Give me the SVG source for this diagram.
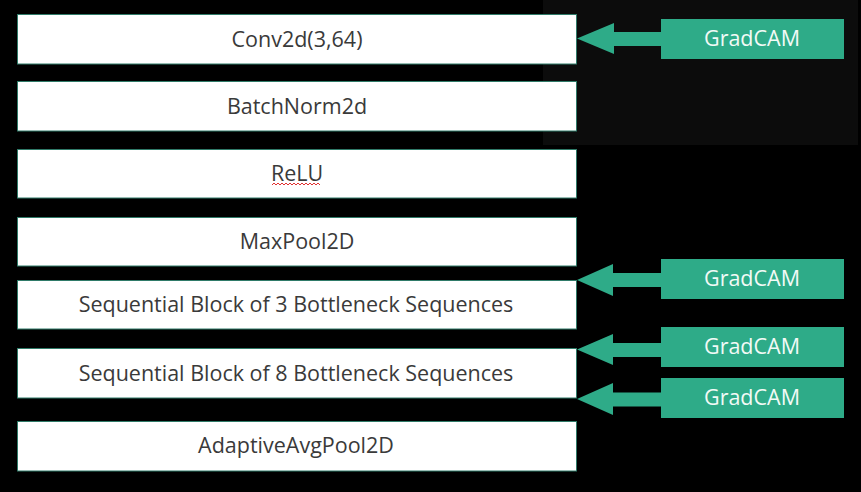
<svg xmlns="http://www.w3.org/2000/svg" width="861" height="492" viewBox="0 0 861 492">
  <style>
    .layer rect { fill: #ffffff; stroke: #2f7a68; stroke-width: 1; }
    .layer text { font-family: "Open Sans", "Noto Sans", sans-serif; font-size: 21.5px; fill: #3a3a3a; text-anchor: middle; }
    .cam rect { fill: #2eab88; }
    .cam text { font-family: "Open Sans", "Noto Sans", sans-serif; font-size: 21.5px; fill: #f2faf6; text-anchor: middle; }
    .arrow { fill: #2eab88; }
  </style>
  <rect x="0" y="0" width="861" height="492" fill="#000000"/>
  <rect x="543" y="0" width="315" height="145" fill="#0c0c0c"/>

  <g id="conv2d" class="layer">
    <rect x="17.5" y="14.5" width="559" height="49.5"/>
    <text x="297" y="47">Conv2d(3,64)</text>
  </g>
  <g id="batchnorm2d" class="layer">
    <rect x="17.5" y="81.5" width="559" height="49.5"/>
    <text x="297" y="114">BatchNorm2d</text>
  </g>
  <g id="relu" class="layer">
    <rect x="17.5" y="149.5" width="559" height="48.5"/>
    <text x="297" y="181">ReLU</text>
    <path d="M272 185 l2 -2 l2 2 l2 -2 l2 2 l2 -2 l2 2 l2 -2 l2 2 l2 -2 l2 2 l2 -2 l2 2 l2 -2 l2 2 l2 -2 l2 2 l2 -2 l2 2 l2 -2 l2 2 l2 -2 l2 2 l2 -2 l2 2" fill="none" stroke="#e03030" stroke-width="1"/>
  </g>
  <g id="maxpool2d" class="layer">
    <rect x="17.5" y="217.5" width="559" height="48.5"/>
    <text x="297" y="249">MaxPool2D</text>
  </g>
  <g id="seq3" class="layer">
    <rect x="17.5" y="280.5" width="559" height="48.5"/>
    <text x="296" y="312">Sequential Block of 3 Bottleneck Sequences</text>
  </g>
  <g id="seq8" class="layer">
    <rect x="17.5" y="348.5" width="559" height="49.5"/>
    <text x="296" y="381">Sequential Block of 8 Bottleneck Sequences</text>
  </g>
  <g id="adaptiveavgpool2d" class="layer">
    <rect x="17.5" y="421.5" width="559" height="49.5"/>
    <text x="296" y="453">AdaptiveAvgPool2D</text>
  </g>

  <g id="gradcam1" class="cam">
    <rect x="661" y="19" width="183" height="40"/>
    <text x="752" y="46">GradCAM</text>
  </g>
  <g id="gradcam2" class="cam">
    <rect x="661" y="259" width="183" height="40"/>
    <text x="752" y="286">GradCAM</text>
  </g>
  <g id="gradcam3" class="cam">
    <rect x="661" y="327" width="183" height="40"/>
    <text x="752" y="354">GradCAM</text>
  </g>
  <g id="gradcam4" class="cam">
    <rect x="661" y="378" width="183" height="40"/>
    <text x="752" y="405">GradCAM</text>
  </g>

  <g id="connectors">
    <polygon class="arrow" points="577,38.5 614,23 614,32 661,32 661,46 614,46 614,54"/>
    <polygon class="arrow" points="577,280 613,264 613,273 661,273 661,287 613,287 613,296"/>
    <polygon class="arrow" points="577,349.5 613,334 613,343 661,343 661,357 613,357 613,365"/>
    <polygon class="arrow" points="577,399 613,383 613,392.5 661,392.5 661,406.5 613,406.5 613,415"/>
  </g>
</svg>
